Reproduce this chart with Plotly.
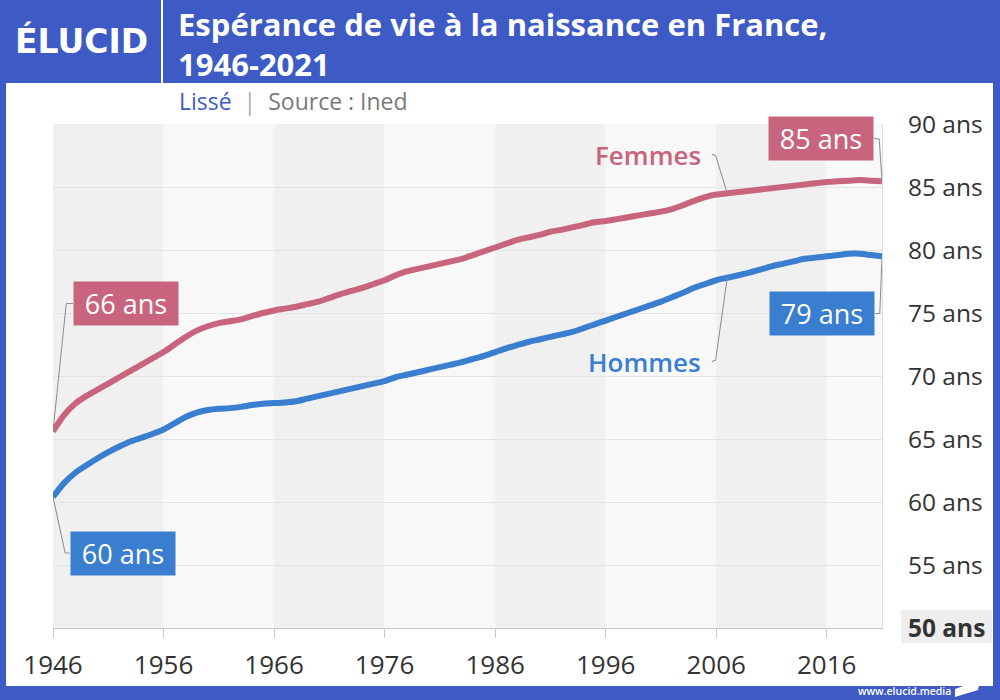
import plotly.graph_objects as go

# ---------------- data ----------------
years = list(range(1946, 2022))
femmes = [65.6, 66.9, 67.8, 68.4, 68.9, 69.4, 69.9, 70.4, 70.9, 71.4,
          71.9, 72.5, 73.1, 73.6, 73.95, 74.2, 74.35, 74.5, 74.75, 75.0,
          75.2, 75.35, 75.5, 75.7, 75.9, 76.2, 76.5, 76.75, 77.0, 77.3,
          77.6, 78.0, 78.3, 78.5, 78.7, 78.9, 79.1, 79.3, 79.6, 79.9,
          80.2, 80.5, 80.8, 81.0, 81.2, 81.45, 81.6, 81.8, 82.0, 82.2,
          82.3, 82.45, 82.6, 82.75, 82.9, 83.05, 83.25, 83.55, 83.9, 84.2,
          84.4, 84.5, 84.6, 84.7, 84.8, 84.9, 85.0, 85.1, 85.2, 85.3,
          85.4, 85.45, 85.5, 85.55, 85.5, 85.45]
hommes = [60.4, 61.5, 62.3, 62.9, 63.45, 63.95, 64.4, 64.8, 65.1, 65.4,
          65.75, 66.25, 66.75, 67.1, 67.3, 67.4, 67.45, 67.55, 67.7, 67.8,
          67.85, 67.9, 68.0, 68.2, 68.4, 68.6, 68.8, 69.0, 69.2, 69.4,
          69.6, 69.9, 70.1, 70.3, 70.5, 70.7, 70.9, 71.1, 71.35, 71.6,
          71.9, 72.2, 72.45, 72.7, 72.9, 73.1, 73.3, 73.5, 73.8, 74.1,
          74.4, 74.7, 75.0, 75.3, 75.6, 75.9, 76.25, 76.6, 77.0, 77.3,
          77.6, 77.8, 78.0, 78.2, 78.45, 78.7, 78.9, 79.1, 79.3, 79.4,
          79.5, 79.6, 79.7, 79.7, 79.6, 79.5]
x_ticks = [1946, 1956, 1966, 1976, 1986, 1996, 2006, 2016]
y_ticks = [50, 55, 60, 65, 70, 75, 80, 85, 90]
y_labels = ["<b>50 ans</b>"] + [f"{v} ans" for v in y_ticks[1:]]
start_labels = ["66 ans", "60 ans"]
end_labels = ["85 ans", "79 ans"]
series_names = ["Femmes", "Hommes"]

# ---------------- styles ----------------
FONT = "Open Sans"
BLUE_FRAME = "#3D5AC5"
PINK = "#C9647E"
BLUE = "#3A7ED0"
W, H = 1000, 700

def px(x):
    return x / W

def py(y):
    return 1 - y / H

fig = go.Figure()

fig.add_trace(go.Scatter(x=years, y=femmes, mode="lines", name=series_names[0],
                         line=dict(color=PINK, width=6, shape="spline", smoothing=0.8),
                         hoverinfo="skip"))
fig.add_trace(go.Scatter(x=years, y=hommes, mode="lines", name=series_names[1],
                         line=dict(color=BLUE, width=6, shape="spline", smoothing=0.8),
                         hoverinfo="skip"))

shapes = []
# frame
shapes.append(dict(type="rect", xref="paper", yref="paper", x0=px(6), x1=px(993),
                   y0=py(686), y1=py(83), fillcolor="white", line=dict(width=0), layer="below"))
shapes.append(dict(type="line", xref="paper", yref="paper", x0=px(162), x1=px(162),
                   y0=1, y1=py(83), line=dict(color="white", width=2)))
# bands
for i, x0 in enumerate(x_ticks):
    x1 = x_ticks[i + 1] if i + 1 < len(x_ticks) else years[-1]
    col = "#f0f0f0" if i % 2 == 0 else "#f8f8f8"
    shapes.append(dict(type="rect", xref="x", yref="y", x0=x0, x1=x1, y0=y_ticks[0], y1=y_ticks[-1],
                       fillcolor=col, line=dict(width=0), layer="below"))
# gray bg behind "50 ans"
shapes.append(dict(type="rect", xref="paper", yref="paper", x0=px(901), x1=px(992),
                   y0=py(643), y1=py(610), fillcolor="#eeeeee", line=dict(width=0), layer="below"))

LEAD = dict(color="#8a8a8a", width=1)
i2007 = years.index(2007)
# leader lines (data coordinates)
shapes.append(dict(type="path", xref="x", yref="y",
                   path=f"M {years[0]},{femmes[0]} L 1947.2,75.75 L 1947.8,75.75", line=LEAD))
shapes.append(dict(type="path", xref="x", yref="y",
                   path=f"M {years[0]},{hommes[0]} L 1947.1,55.95 L 1947.5,55.95", line=LEAD))
shapes.append(dict(type="path", xref="x", yref="y",
                   path=f"M 2020.3,88.85 L 2020.75,88.8 L {years[-1]},{femmes[-1]}", line=LEAD))
shapes.append(dict(type="path", xref="x", yref="y",
                   path=f"M 2020.4,74.95 L 2020.8,74.97 L {years[-1]},{hommes[-1]}", line=LEAD))
shapes.append(dict(type="path", xref="x", yref="y",
                   path=f"M 2005.6,87.6 L 2005.95,87.5 L {years[i2007]},{femmes[i2007]}", line=LEAD))
shapes.append(dict(type="path", xref="x", yref="y",
                   path=f"M 2005.6,71.15 L 2005.95,71.25 L {years[i2007]},{hommes[i2007]}", line=LEAD))
# footer logo
shapes.append(dict(type="path", xref="paper", yref="paper",
                   path=f"M {px(955)},{py(689)} L {px(980)},{py(680)} L {px(978)},{py(690)} L {px(955)},{py(697)} Z",
                   fillcolor="white", line=dict(width=0)))

ann = []
# logo & titles
ann.append(dict(text="<b>ÉLUCID</b>", x=px(13), y=py(41), xref="paper", yref="paper",
                xanchor="left", yanchor="middle", showarrow=False,
                font=dict(family="DejaVu Sans", size=33, color="white")))
ann.append(dict(text="Espérance de vie à la naissance en France,<br>1946-2021", x=px(176), y=py(44),
                xref="paper", yref="paper", xanchor="left", yanchor="middle", showarrow=False,
                align="left",
                font=dict(family=FONT, size=31, color="white", weight=700)))
ann.append(dict(text=f"<span style='color:{BLUE_FRAME}'>Lissé</span>"
                     "<span style='color:#aaaaaa'>  |  </span>"
                     "<span style='color:#7a7a7a'>Source : Ined</span>",
                x=px(177), y=py(101), xref="paper", yref="paper", xanchor="left", yanchor="middle",
                showarrow=False, font=dict(family=FONT, size=23)))
ann.append(dict(text="www.elucid.media", x=px(953), y=py(691), xref="paper", yref="paper",
                xanchor="right", yanchor="middle", showarrow=False,
                font=dict(family=FONT, size=10.5, color="white", weight=600)))

# value boxes
def box(text, x, y, color, xanchor="left"):
    return dict(text=text, x=x, y=y, xref="x", yref="y", xanchor=xanchor, yanchor="middle",
                showarrow=False, bgcolor=color, width=104, height=43, borderpad=0,
                align="center", valign="middle",
                font=dict(family=FONT, size=27, color="white", weight=500))

ann.append(box(start_labels[0], 1947.8, 75.75, PINK))
ann.append(box(start_labels[1], 1947.5, 55.95, BLUE))
ann.append(box(end_labels[0], 2020.3, 88.85, PINK, "right"))
ann.append(box(end_labels[1], 2020.4, 74.95, BLUE, "right"))

# series labels
ann.append(dict(text=series_names[0], x=2004.8, y=87.55, xref="x", yref="y", xanchor="right",
                yanchor="middle", showarrow=False,
                font=dict(family=FONT, size=26, color=PINK, weight=600)))
ann.append(dict(text=series_names[1], x=2004.8, y=71.15, xref="x", yref="y", xanchor="right",
                yanchor="middle", showarrow=False,
                font=dict(family=FONT, size=26, color=BLUE, weight=600)))

fig.update_layout(
    width=W, height=H,
    margin=dict(l=0, r=0, t=0, b=0, pad=0),
    paper_bgcolor=BLUE_FRAME,
    plot_bgcolor="#f8f8f8",
    showlegend=False,
    shapes=shapes,
    annotations=ann,
    font=dict(family=FONT, color="#333333"),
    xaxis=dict(domain=[px(53), px(882)], range=[years[0], years[-1]],
               tickvals=x_ticks, ticktext=[str(v) for v in x_ticks],
               showgrid=False, zeroline=False, automargin=False,
               ticks="outside", ticklen=9, tickwidth=1, tickcolor="#c8c8c8",
               showline=True, linecolor="#c8c8c8", linewidth=1,
               tickfont=dict(family=FONT, size=26, color="#333333"),
               ticklabelstandoff=5, fixedrange=True),
    yaxis=dict(domain=[py(628), py(124)], range=[y_ticks[0], y_ticks[-1]],
               side="right", tickvals=y_ticks, ticktext=y_labels,
               showgrid=True, gridcolor="#e4e4e4", gridwidth=1, zeroline=False,
               automargin=False,
               showline=True, linecolor="#dddddd", linewidth=1, ticks="",
               tickfont=dict(family=FONT, size=24.5, color="#333333"),
               ticklabelstandoff=20, fixedrange=True),
)

fig.write_html("out.html", config={"displayModeBar": False},
               post_script="document.body.style.margin='0';document.body.style.overflow='hidden';")
